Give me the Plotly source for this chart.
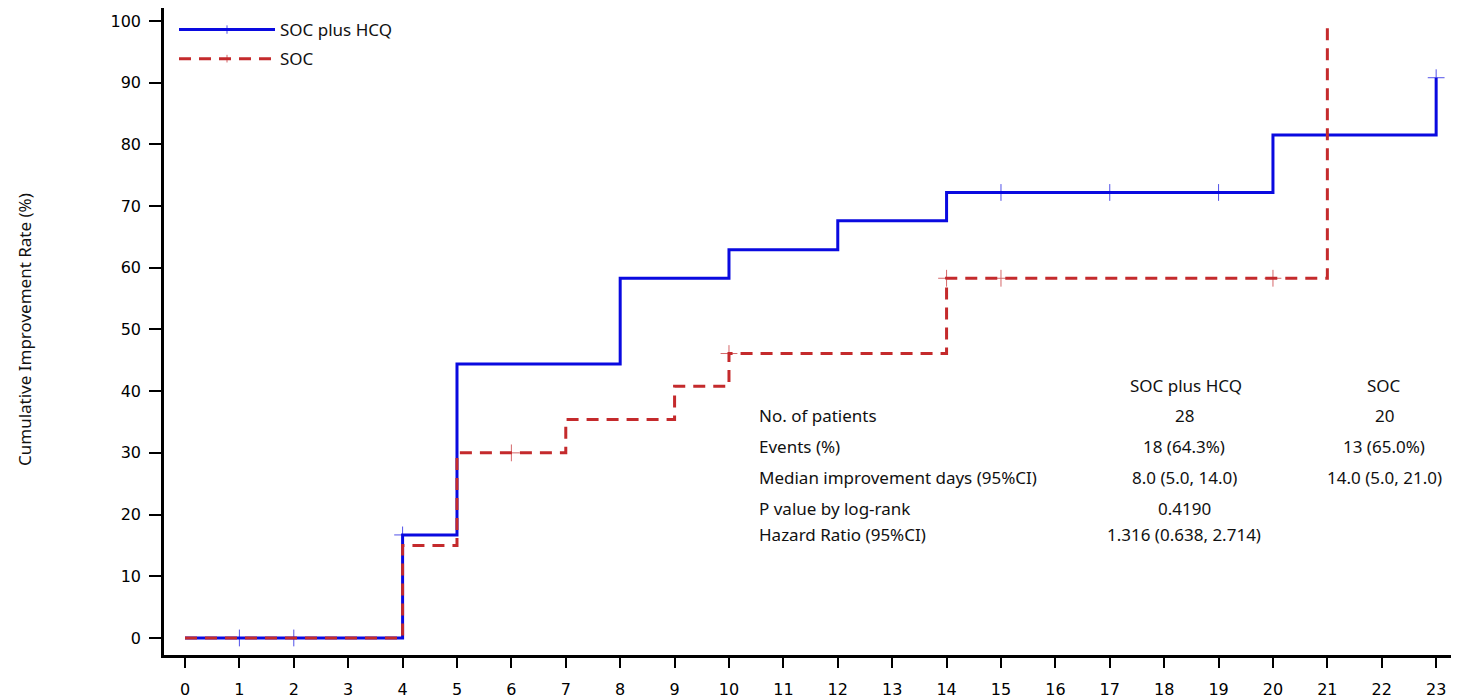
import plotly.graph_objects as go

# ---- data ----
days_hcq = [0, 1, 2, 4, 5, 8, 10, 12, 14, 15, 17, 19, 20, 23]
rate_hcq = [0, 0, 0, 16.7, 44.4, 58.3, 62.9, 67.6, 72.2, 72.2, 72.2, 72.2, 81.5, 90.8]
censor_hcq = [0, 1, 1, 1, 0, 0, 0, 0, 0, 1, 1, 1, 0, 1]

days_soc = [0, 4, 5, 6, 7, 9, 10, 14, 15, 20, 21]
rate_soc = [0, 15.0, 30.0, 30.0, 35.4, 40.8, 46.1, 58.3, 58.3, 58.3, 100]
censor_soc = [0, 0, 0, 1, 0, 0, 1, 1, 1, 1, 0]

series_names = ["SOC plus HCQ", "SOC"]
x_ticks = list(range(0, 24))
y_ticks = list(range(0, 101, 10))

table_rows = ["No. of patients", "Events (%)", "Median improvement days (95%CI)",
              "P value by log-rank", "Hazard Ratio (95%CI)"]
table_hcq = ["28", "18 (64.3%)", "8.0 (5.0, 14.0)", "0.4190", "1.316 (0.638, 2.714)"]
table_soc = ["20", "13 (65.0%)", "14.0 (5.0, 21.0)", "", ""]

BLUE = "#0a0ae0"
RED = "#c42a2c"
TXT_FONT = "Noto Sans, sans-serif"

fig = go.Figure()

def add_curve(days, rate, cens, name, color, dash, legendrank):
    fig.add_trace(go.Scatter(
        x=days, y=rate, mode="lines+markers", name=name, line_shape="hv",
        line=dict(color=color, width=3, dash=dash),
        marker=dict(symbol="cross-thin", size=[12 if c else 0 for c in cens],
                    line=dict(color=color, width=1), color=color),
        legendgroup=name, legendrank=legendrank, hoverinfo="x+y+name"))

add_curve(days_hcq, rate_hcq, censor_hcq, series_names[0], BLUE, "solid", 1)
add_curve(days_soc, rate_soc, censor_soc, series_names[1], RED, "12px,8px", 2)

OFF = 8  # page body margin
W, H = 1459 - OFF, 699 - OFF
L, R, T, B = 164 - OFF, 0, 0, 44
pw, ph = W - L - R, H - T - B

def px(xp):
    return (xp - OFF - L) / pw

def py(yp):
    return (OFF + T + ph - yp) / ph

ann = []
ann.append(dict(x=px(1186), y=py(385), text="SOC plus HCQ", xanchor="center"))
ann.append(dict(x=px(1384), y=py(385), text="SOC", xanchor="center"))
row_y = [415, 446, 477, 508, 534]
for i, lab in enumerate(table_rows):
    ann.append(dict(x=px(757), y=py(row_y[i]), text=lab, xanchor="left"))
    ann.append(dict(x=px(1184), y=py(row_y[i]), text=table_hcq[i], xanchor="center"))
    if table_soc[i]:
        ann.append(dict(x=px(1384), y=py(row_y[i]), text=table_soc[i], xanchor="center"))
for a in ann:
    a.update(xref="paper", yref="paper", yanchor="middle", showarrow=False,
             font=dict(family=TXT_FONT, size=17, color="#111"))

ann.append(dict(x=px(24), y=py(330), xref="paper", yref="paper", text="Cumulative Improvement Rate (%)",
                textangle=-90, showarrow=False, xanchor="center", yanchor="middle",
                font=dict(family="Liberation Sans Narrow, Noto Sans, sans-serif", size=17, color="#111")))

fig.update_layout(
    width=W, height=H,
    margin=dict(l=L, r=R, t=T, b=B),
    paper_bgcolor="white", plot_bgcolor="white",
    annotations=ann,
    showlegend=True,
    legend=dict(x=px(174), y=py(12), xanchor="left", yanchor="top",
                font=dict(family=TXT_FONT, size=17, color="#111"),
                bgcolor="rgba(0,0,0,0)", itemwidth=96, tracegroupgap=4),
    xaxis=dict(range=[-0.386, 23.42], tickvals=x_ticks, ticktext=[str(v) for v in x_ticks],
               showgrid=False, zeroline=False, showline=True, linecolor="black", linewidth=2.5,
               ticks="outside", ticklen=10, tickwidth=2, tickcolor="black", ticklabelstandoff=8,
               tickfont=dict(family="DejaVu Sans, Verdana, sans-serif", size=16, color="black")),
    yaxis=dict(range=[-2.76, 102.1], tickvals=y_ticks, ticktext=[str(v) for v in y_ticks],
               showgrid=False, zeroline=False, showline=True, linecolor="black", linewidth=2.5,
               ticks="outside", ticklen=12, tickwidth=2, tickcolor="black", ticklabelstandoff=5,
               tickfont=dict(family="DejaVu Sans, Verdana, sans-serif", size=16, color="black")),
)

fig.write_html("out.html")
